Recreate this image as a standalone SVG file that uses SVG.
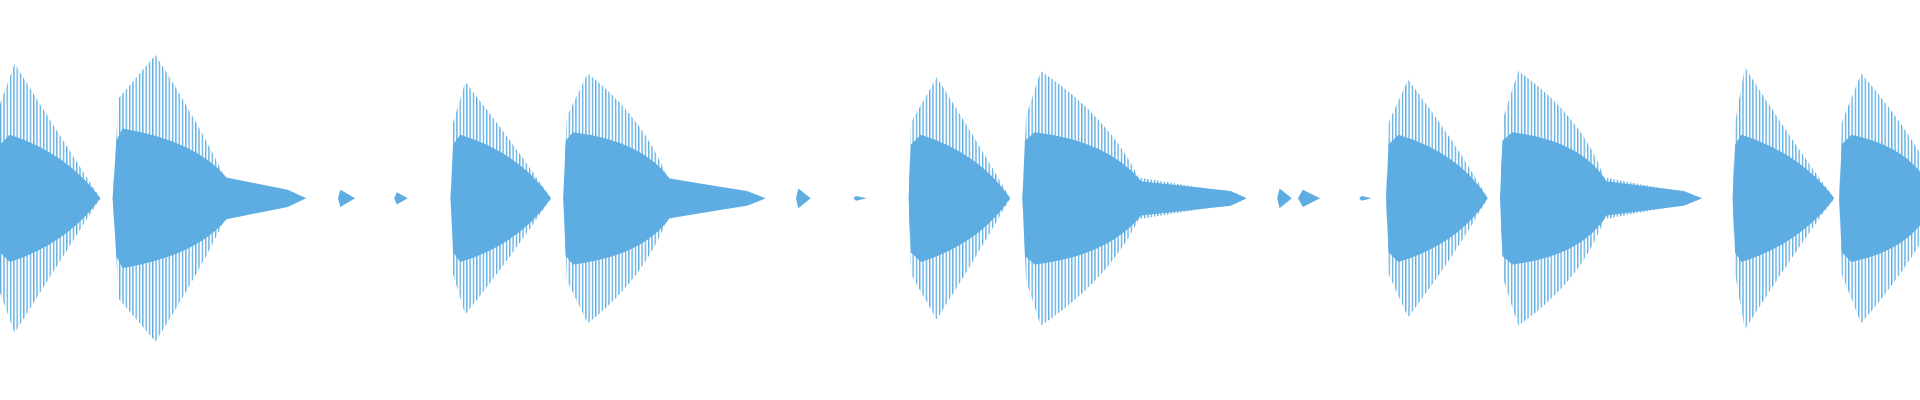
<svg xmlns="http://www.w3.org/2000/svg" width="1920" height="400" viewBox="0 0 1920 400">
<defs>
<pattern id="st" patternUnits="userSpaceOnUse" width="2.7" height="10"><rect x="0" y="0" width="1.1" height="10" fill="#5dade2"/></pattern>
<style>.o{fill:url(#st)}.c{fill:#5dade2}</style>
</defs>
<rect width="1920" height="400" fill="#fff"/>
<g transform="scale(1.22449)">
<g id="burst1"><path class="o" d="M0,162 L0,85 L12,52 Q45,105 82,162 Q45,219 12,272 L0,239 Z"/><path class="c" d="M0,162 L0,118 L8,110 Q55,125 82,162 Q55,199 8,214 L0,206 Z"/></g>
<g id="burst2"><path class="o" d="M92,162 L97,80 L127,45 Q165,105 185,148 L240,158 L250,162 L240,166 L185,176 Q165,219 127,279 L97,244 Z"/><path class="c" d="M92,162 L95,115 L100,105 Q160,115 185,145 L235,155 L250,162 L235,169 L185,179 Q160,209 100,219 L95,209 Z"/></g>
<g id="burst4"><path class="o" d="M368,162 L370,100 L380,67 Q418,115 450,162 Q418,209 380,257 L370,224 Z"/><path class="c" d="M368,162 L370,118 L376,110 Q425,125 450,162 Q425,199 376,214 L370,206 Z"/></g>
<g id="burst5"><path class="o" d="M460,162 L463,95 L480,60 Q525,95 545,145 L615,158 L625,162 L615,166 L545,179 Q525,229 480,264 L463,229 Z"/><path class="c" d="M460,162 L462,115 L468,108 Q525,115 547,146 L610,156 L625,162 L610,168 L547,178 Q525,209 468,216 L462,209 Z"/></g>
<g id="burst7"><path class="o" d="M742,162 L744,100 L765,63 Q798,115 825,162 Q798,209 765,261 L744,224 Z"/><path class="c" d="M742,162 L744,118 L752,110 Q800,125 825,162 Q800,199 752,214 L744,206 Z"/></g>
<g id="burst8"><path class="o" d="M835,162 L838,95 L850,58 Q905,95 930,145 L1010,158 L1018,162 L1010,166 L930,179 Q905,229 850,266 L838,229 Z"/><path class="c" d="M835,162 L837,115 L845,108 Q905,115 932,148 L1005,156 L1018,162 L1005,168 L932,176 Q905,209 845,216 L837,209 Z"/></g>
<g id="burst10"><path class="o" d="M1132,162 L1134,100 L1150,65 Q1188,115 1215,162 Q1188,209 1150,259 L1134,224 Z"/><path class="c" d="M1132,162 L1134,118 L1142,110 Q1192,125 1215,162 Q1192,199 1142,214 L1134,206 Z"/></g>
<g id="burst11"><path class="o" d="M1225,162 L1228,95 L1240,58 Q1292,95 1310,145 L1380,158 L1390,162 L1380,166 L1310,179 Q1292,229 1240,266 L1228,229 Z"/><path class="c" d="M1225,162 L1227,115 L1235,108 Q1292,115 1312,148 L1375,156 L1390,162 L1375,168 L1312,176 Q1292,209 1235,216 L1227,209 Z"/></g>
<g id="burst12"><path class="o" d="M1415,162 L1417,100 L1425,55 Q1463,115 1498,162 Q1463,209 1425,269 L1417,224 Z"/><path class="c" d="M1415,162 L1417,118 L1422,110 Q1470,125 1498,162 Q1470,199 1422,214 L1417,206 Z"/></g>
<g id="burst13"><path class="o" d="M1502,162 L1504,100 L1520,60 Q1550,95 1568,125 L1568,199 Q1550,229 1520,264 L1504,224 Z"/><path class="c" d="M1502,162 L1504,118 L1512,110 Q1550,118 1568,140 L1568,184 Q1550,206 1512,214 L1504,206 Z"/></g>
<g id="blips">
<path class="c" d="M276,162 L278,155 L290,162 L278,169 Z"/>
<path class="c" d="M322,162 L324,157 L333,162 L324,167 Z"/>
<path class="c" d="M650,162 L652,154 L662,162 L652,170 Z"/>
<path class="c" d="M697,162 L699,160 L708,162 L699,164 Z"/>
<path class="c" d="M1043,162 L1045,154 L1055,162 L1045,170 Z"/>
<path class="c" d="M1060,162 L1064,155 L1078,162 L1064,169 Z"/>
<path class="c" d="M1110,162 L1112,160 L1120,162 L1112,164 Z"/>
</g>
</g>
</svg>
